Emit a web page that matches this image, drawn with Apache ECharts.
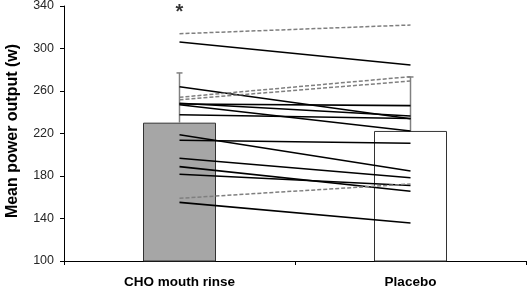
<!DOCTYPE html>
<html>
<head>
<meta charset="utf-8">
<script src="https://cdn.jsdelivr.net/npm/echarts@6/dist/echarts.min.js"></script>
<style>
  html, body { margin: 0; padding: 0; background: #fff; }
  #chart { width: 529px; height: 289px; }
</style>
</head>
<body>
<div id="chart"></div>
<script>
// conditions and group means (W)
const categories = ['CHO mouth rinse', 'Placebo'];
const barMeans = [230.2, 222.4];
const barSD = [46.8, 50.8];

// individual subjects: [CHO, Placebo]
const solidPairs = [
  [306.1, 284.5], [264.0, 233.9], [248.4, 236.5], [247.1, 222.4],
  [247.8, 246.2], [237.7, 234.1], [218.9, 184.7], [213.6, 210.8],
  [196.7, 178.4], [188.8, 165.6], [181.6, 171.1], [155.2, 135.8]
];
const dashedPairs = [
  [313.9, 322.1], [254.1, 273.5], [251.8, 269.4], [159.0, 172.5]
];

const yMin = 100, yMax = 340, yStep = 40;
const starMark = [[0, 334]]; // significance asterisk above CHO

const chart = echarts.init(document.getElementById('chart'));
const font = 'Liberation Sans';

const subjectLine = (pair, dashed) => ({
  type: 'line',
  data: pair,
  symbol: 'none',
  silent: true,
  z: 4,
  lineStyle: dashed
    ? { color: '#7f7f7f', width: 1.5, type: [4, 2] }
    : { color: '#000', width: 1.6 }
});

const option = {
  animation: false,
  backgroundColor: '#fff',
  // keep the plot box fixed, the axis title may sit at the edge
  grid: { left: 64, right: 3, top: 6, bottom: 28, outerBoundsMode: 'none' },
  xAxis: {
    type: 'category',
    data: categories,
    axisLine: { lineStyle: { color: '#000', width: 1 } },
    axisTick: { show: true, length: 4, lineStyle: { color: '#000' } },
    axisLabel: { color: '#000', fontFamily: font, fontWeight: 'bold', fontSize: 13.5, margin: 14 }
  },
  yAxis: {
    type: 'value',
    min: yMin, max: yMax, interval: yStep,
    name: 'Mean power output (w)',
    nameLocation: 'middle',
    nameGap: 43,
    nameTextStyle: { color: '#000', fontFamily: font, fontWeight: 'bold', fontSize: 16, padding: [0, 0, 0, 5] },
    splitLine: { show: false },
    axisLine: { show: true, lineStyle: { color: '#000', width: 1 } },
    axisTick: { show: true, length: 4, lineStyle: { color: '#000' } },
    axisLabel: { color: '#262626', fontFamily: font, fontSize: 12.5, margin: 10 }
  },
  series: [
    {
      type: 'bar',
      barWidth: 73,
      z: 2,
      data: barMeans.map((v, i) => ({
        value: v,
        itemStyle: { color: i === 0 ? '#a6a6a6' : '#ffffff', borderColor: '#333', borderWidth: 1 }
      }))
    },
    {
      type: 'custom',
      z: 3,
      silent: true,
      data: barMeans.map((v, i) => [i, v, v + barSD[i]]),
      renderItem: (params, api) => {
        const base = api.coord([api.value(0), api.value(1)]);
        const top = api.coord([api.value(0), api.value(2)]);
        const style = { stroke: '#808080', lineWidth: 1.5 };
        return {
          type: 'group',
          children: [
            { type: 'line', shape: { x1: base[0], y1: base[1], x2: top[0], y2: top[1] }, style },
            { type: 'line', shape: { x1: top[0] - 3, y1: top[1], x2: top[0] + 3, y2: top[1] }, style }
          ]
        };
      }
    },
    ...solidPairs.map(p => subjectLine(p, false)),
    ...dashedPairs.map(p => subjectLine(p, true)),
    {
      type: 'scatter',
      data: starMark,
      symbolSize: 0,
      silent: true,
      label: {
        show: true, position: 'inside', formatter: '*',
        color: '#000', fontFamily: font, fontWeight: 'bold', fontSize: 20
      }
    }
  ]
};

chart.setOption(option);
</script>
</body>
</html>
